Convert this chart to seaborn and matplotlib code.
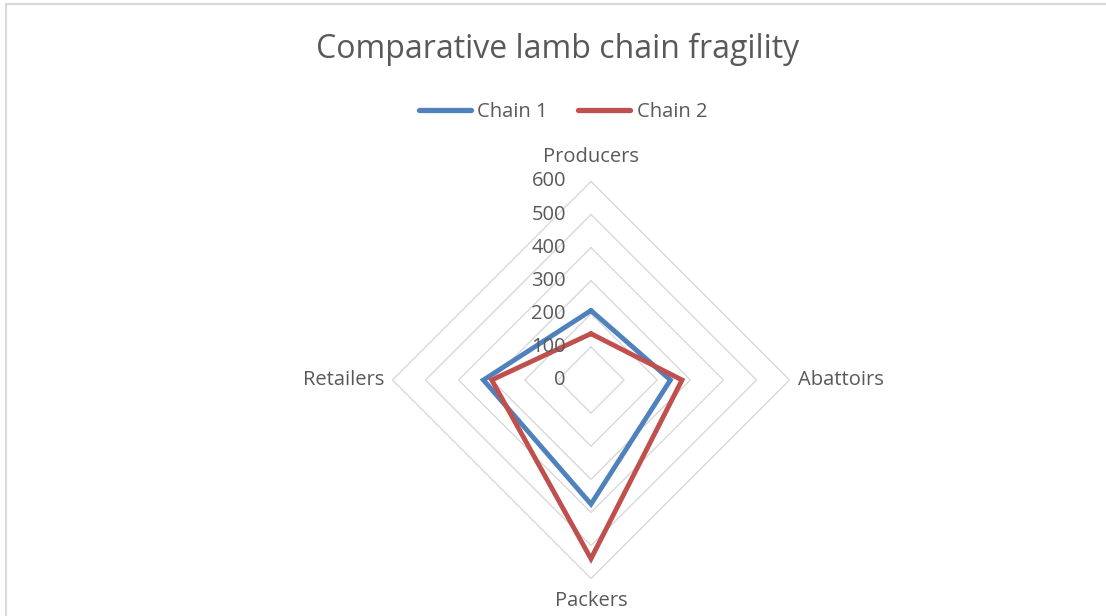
import numpy as np
import pandas as pd
import matplotlib
matplotlib.use("Agg")
import matplotlib.pyplot as plt
import seaborn as sns
from matplotlib.lines import Line2D
from matplotlib.patches import Rectangle

# data
categories = ["Producers", "Abattoirs", "Packers", "Retailers"]
chain1 = [210, 240, 375, 325]
chain2 = [140, 275, 540, 300]
ring_ticks = [0, 100, 200, 300, 400, 500, 600]

blue = "#4F81BD"
red = "#C0504D"
text_col = "#595959"
grid_col = "#D9D9D9"

sns.set_theme(style="white")
plt.rcParams["font.family"] = ["Open Sans", "DejaVu Sans"]

fig = plt.figure(figsize=(11.06, 6.16), dpi=100)
ax = fig.add_axes([0.3548, 0.0607, 0.3591, 0.6448], projection="polar")
ax.set_theta_zero_location("N")
ax.set_theta_direction(-1)
ax.set_ylim(0, 600)
ax.grid(False)
ax.spines["polar"].set_visible(False)
ax.set_xticks([])
ax.set_yticks([])
ax.patch.set_alpha(0)

angles = np.linspace(0, 2 * np.pi, len(categories), endpoint=False)

# diamond shaped rings
for r in ring_ticks[1:]:
    ax.plot(np.append(angles, 2 * np.pi), [r] * (len(angles) + 1),
            color=grid_col, lw=1.0, clip_on=False, zorder=1)

# series as long table, closed back to the first category
rows = []
for name, vals in [("Chain 1", chain1), ("Chain 2", chain2)]:
    for a, v in zip(np.append(angles, 2 * np.pi), vals + vals[:1]):
        rows.append({"series": name, "theta": a, "value": v})
df = pd.DataFrame(rows)

sns.lineplot(data=df, x="theta", y="value", hue="series",
             palette={"Chain 1": blue, "Chain 2": red}, linewidth=3.5,
             sort=False, estimator=None, legend=False, ax=ax, zorder=3)
for ln in ax.lines[-2:]:
    ln.set_clip_on(False)
    ln.set_solid_joinstyle("miter")
ax.set_xlabel("")
ax.set_ylabel("")

# radial value labels to the left of the top spoke
for r in ring_ticks:
    ax.annotate(str(r), xy=(0, r), xytext=(-25, 0), textcoords="offset pixels",
                ha="right", va="center", fontsize=14.5, color=text_col,
                annotation_clip=False)

# category labels around the outside
offsets = [(0, 24, "center", "center"), (8, 0, "left", "center"),
           (0, -22, "center", "center"), (-8, 0, "right", "center")]
for a, lab, (dx, dy, ha, va) in zip(angles, categories, offsets):
    ax.annotate(lab, xy=(a, 600), xytext=(dx, dy), textcoords="offset pixels",
                ha=ha, va=va, fontsize=14.5, color=text_col, annotation_clip=False)

fig.text(0.5045, 0.920, "Comparative lamb chain fragility", ha="center",
         va="center", fontsize=23, color=text_col)

handles = [Line2D([0], [0], color=blue, lw=3.8, solid_capstyle="round"),
           Line2D([0], [0], color=red, lw=3.8, solid_capstyle="round")]
fig.legend(handles, ["Chain 1", "Chain 2"], loc="center",
           bbox_to_anchor=(0.509, 0.818), ncol=2, frameon=False,
           fontsize=14.5, handlelength=2.6, handletextpad=0.3,
           columnspacing=1.5, labelcolor=text_col)

# chart border (left and top edges visible in the crop)
fig.add_artist(Rectangle((6 / 1106, -0.05), 1.2, 0.05 + (616 - 4.5) / 616,
                         transform=fig.transFigure, fill=False,
                         edgecolor="#D9D9D9", lw=1.5))

fig.savefig("out.png", dpi=100)
